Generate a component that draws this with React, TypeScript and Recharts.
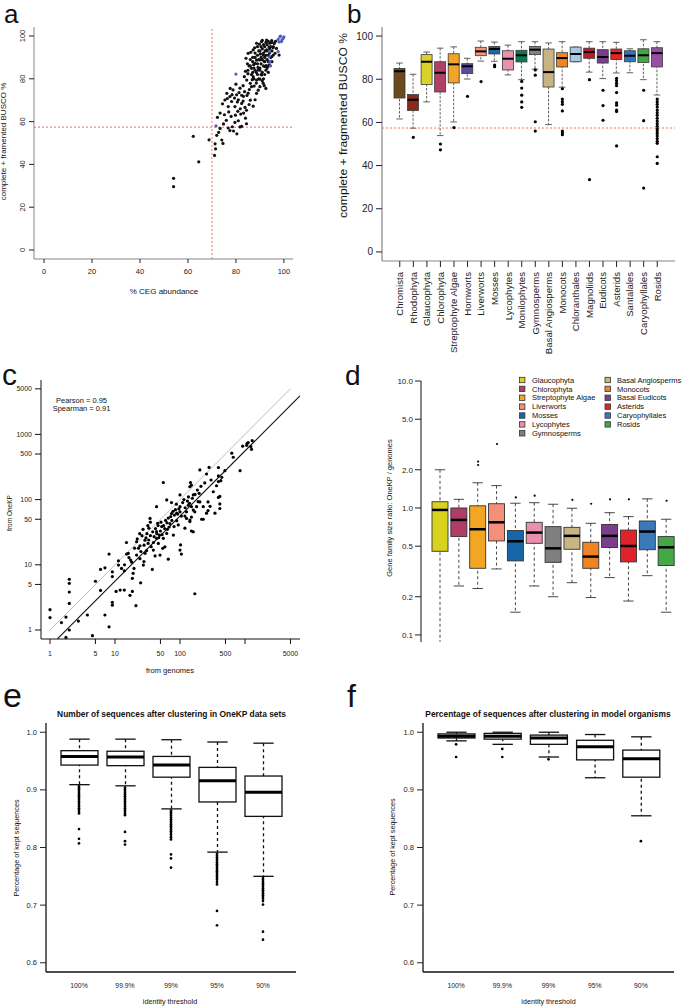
import React from 'react'
import { ComposedChart, Scatter, Bar, XAxis, YAxis, ReferenceLine } from 'recharts'

const FONT = '"Liberation Sans", Arial, Helvetica, sans-serif'
const INK = '#222'
const FRAME = '#858585'
const CUT = '#f2705e'
const BLUE = '#4b5fc0'

// ---------- panel a : BUSCO vs CEG ----------
const aTicks = [0, 20, 40, 60, 80, 100]
const aCutX = 70
const aCutY = 57.4
const aBlack = [
  [54, 33.5], [54, 29.6], [64.5, 41.2], [62.2, 53.1], [68.8, 51.5], [71.3, 49.6], [71.5, 47.3], [71.1, 44.2],
  [72, 53.6], [72.8, 55], [73.4, 56.8], [74.1, 51.4], [74.6, 49.8], [74.8, 58.9], [75.2, 63.2], [76, 60.6],
  [76.8, 57], [77.5, 55.8], [78.5, 57.6], [79, 55.6], [79.6, 59.6], [80.4, 54.3], [81, 60.4], [81.7, 57.5],
  [82.4, 57.8], [84.4, 59], [84, 61.6], [72.3, 62], [73.4, 64], [74.4, 68.3], [75.4, 70.1], [76.2, 73.2],
  [76.8, 67], [77.5, 71.7], [78.2, 69.4], [78.8, 74.8], [79.6, 67], [80.3, 72.5], [81, 70.2], [81.7, 75.6],
  [82.4, 68.5], [83.1, 71.8], [83.8, 66.6], [84.4, 65.3], [85.1, 73.3], [86, 70], [86.5, 76.3], [87.2, 67.2],
  [88, 70.2], [88.6, 73.2], [77, 64.5], [79.8, 63], [82, 63.5], [85.5, 68], [80, 77.5], [83, 76.8],
  [84.5, 79.4], [85, 82.4], [86, 77.9], [86.5, 84.9], [87.2, 81], [88, 87.2], [88.6, 79.4], [89.3, 84.1],
  [90, 88.8], [90.7, 81.8], [91.4, 91.1], [92.1, 85.7], [92.8, 93.5], [93.5, 88], [94.2, 96.6], [94.9, 90.3],
  [95.6, 95], [96.3, 91.9], [92.5, 75.5], [91.4, 77.9], [90, 76.3], [84.2, 89.6], [85.1, 91.9], [87.2, 93.5],
  [88.6, 96.6], [90.7, 97.4], [92.8, 98.1], [94.9, 97.8], [96.9, 94.2], [98, 91.1], [86, 86], [87, 88],
  [87.5, 85], [88, 90], [88.5, 83], [89, 87], [89, 91], [89.5, 89], [90, 85], [90, 93], [90.5, 90],
  [90.5, 87], [91, 94], [91, 83], [91, 89], [91.5, 92], [91.5, 86], [92, 90], [92, 95], [92, 88],
  [92.5, 91], [92.5, 84], [93, 93], [93, 89], [93, 96], [93.5, 91], [93.5, 86], [94, 94], [94, 92],
  [94.5, 95], [95, 93], [95, 97], [95.5, 91], [89, 95], [88, 92], [87, 90], [86, 89], [85.5, 86],
  [86.5, 82], [87.5, 80], [88.5, 78], [89.5, 80], [90.5, 82], [91.5, 80], [90, 84], [89, 82], [88, 84],
  [87, 83], [89.5, 93], [90.5, 95], [91.5, 96], [92.5, 97], [93.5, 97.5], [91, 98], [89.8, 96.2],
  [94.5, 90], [95, 88], [94, 86.5], [93, 85], [92, 82], [91, 79], [90, 79.8], [93.5, 83], [95.5, 94.5],
  [96, 96.5], [96.5, 97.5], [85, 84], [84, 83.5], [83.5, 81], [84.8, 87], [86.2, 92.4], [87.8, 94.5],
  [88.6, 88.7], [90.2, 91.6], [91.8, 88.2], [92.6, 86.2], [93.8, 94.8], [92.2, 93], [89.2, 85.3],
  [87.4, 86.6], [86.8, 79.6], [85.6, 75], [84.6, 72.2], [83.6, 74], [82.4, 72.3], [81.3, 73.6], [83, 69.6],
  [81.8, 66], [80.6, 69.2], [79.4, 71], [78.4, 72.6], [77.6, 75.5], [76.4, 70.8], [80.8, 64.8], [78, 62.4],
  [83.2, 64], [87.6, 76.6], [89.3, 74.7], [91.8, 76.8],
]
const aBlue = [
  [97.6, 98.4], [98.3, 99.6], [99, 97.4], [99.7, 98.9], [100, 99.6], [99.2, 98.2], [98.6, 100], [98, 97.2],
  [93.9, 92.7], [93.9, 90.3], [94.2, 88], [94.4, 86], [97.6, 92.7], [80, 82.2], [71.7, 58],
]

// ---------- panel b : BUSCO by clade ----------
const bNames = ['Chromista', 'Rhodophyta', 'Glaucophyta', 'Chlorophyta', 'Streptophyte Algae', 'Hornworts',
  'Liverworts', 'Mosses', 'Lycophytes', 'Monilophytes', 'Gymnosperms', 'Basal Angiosperms', 'Monocots',
  'Chloranthales', 'Magnoliids', 'Eudicots', 'Asterids', 'Santalales', 'Caryophyllales', 'Rosids']
const bColors = ['#6b4a1e', '#8b2a1a', '#d8d22a', '#b04068', '#f0a428', '#5a4c9a', '#f4937a', '#1768aa',
  '#e892ad', '#0a7a52', '#808080', '#c8b482', '#f08424', '#a8c8e6', '#c01830', '#7a3e8c', '#e02428',
  '#3474b8', '#44a448', '#9850a4']
const bHi = [87.5, 82.3, 92.6, 94.4, 95, 89.7, 97.7, 97.2, 95.8, 97.4, 97.4, 96.8, 97.4, 94.9, 97.4, 97.4, 97.1, 94.1, 98.3, 97.4]
const bQ3 = [85, 72.9, 91.4, 88.1, 91.8, 87.2, 94.8, 95.2, 93.2, 93.4, 95.2, 94, 92.3, 94.9, 94.4, 93.7, 94, 93.2, 94.1, 94.6]
const bMed = [83.7, 70.5, 88.1, 83, 86.9, 86, 92.9, 94, 89.5, 91.1, 93.7, 83.3, 89.8, 91.7, 92.6, 90.3, 92.1, 90.9, 91.1, 92.1]
const bQ1 = [71.3, 65.5, 77.5, 74.1, 78.3, 82.6, 90.9, 91.7, 84.3, 88, 91.4, 76.4, 85.7, 88.1, 89.7, 87.5, 89.1, 88.1, 87.7, 85.7]
const bLo = [61.6, 57.3, 69.5, 53.9, 60.2, 80.1, 88.4, 88.3, 82, 79.8, 84.7, 59, 76.3, 88.1, 83.3, 80.3, 82.9, 83, 79.8, 72.7]
const bOut = [
  [], [53.1], [], [50, 47.3], [57.6], [72.1], [78.9], [86.6, 85.8], [], [79, 75.9, 72.6, 69.5, 67],
  [84.3, 81.9, 60.3, 56], [], [75.6, 70.8, 69.6, 68.4, 65.3, 56, 55.2, 54.3], [], [79.8, 33.5],
  [74.9, 67.8, 61], [80.4, 79.3, 78.1, 77, 73.8, 69.1, 68, 65.7, 65, 49.1], [], [74.9, 60.8, 29.6],
  [70.8, 69.6, 68.4, 67.1, 65.7, 64.5, 63.3, 61.9, 60.6, 59.4, 58.2, 56.9, 56, 54.9, 53.7, 52.5, 51.2, 50.3, 44.1, 41],
]
const bTicks = [0, 20, 40, 60, 80, 100]
const bCut = 57.4

// ---------- panel c : gene family sizes ----------
const cTicksY = [1, 5, 10, 50, 100, 500, 1000, 5000]
const cTicksX = [1, 5, 10, 50, 100, 500, 1000, 5000]
const cIdentity = [[1, 1], [5000, 5000]]
const cFit = [[1.3, 0.73], [7000, 3900]]
const cPoints = [
  [1, 2.05], [1, 1.55], [1.5, 1.3], [1.76, 1.58], [1.98, 1.0], [1.76, 0.77], [1.98, 2.56], [1.98, 3.83],
  [1.98, 5.2], [1.98, 6.0], [2.73, 1.37], [3.76, 1.7], [4.5, 0.82], [5.0, 5.6], [6.0, 4.05], [6.0, 8.5],
  [7.0, 9.0], [7.0, 1.7], [8.1, 1.12], [8.1, 14.6], [9.1, 2.66], [9.1, 2.4], [9.1, 6.6], [9.1, 7.8],
  [10.4, 3.9], [11.3, 11.5], [12, 4.1], [13.9, 4.1], [11.3, 9.9], [12.6, 8.8], [13.9, 8.1], [15.1, 14.6],
  [16.4, 12.9], [17, 3.4], [18.5, 3.9], [18.5, 6.2], [19, 7.4], [19.6, 8.8], [17.4, 11.8], [21, 2.36],
  [21.5, 14.1], [21.5, 22.6], [24.2, 12.4], [24.2, 19.6], [24.8, 5.3], [27.3, 9.9], [27.9, 11.2],
  [28.9, 23.9], [30.6, 16.5], [32.3, 21.3], [33.2, 36.4], [34.6, 51.5], [37.5, 8.5], [38.9, 16.8],
  [41.4, 13.7], [43.6, 32.2], [43.6, 25.5], [45.3, 43.3], [46.4, 21.3], [48.1, 28.6], [49.3, 14.1],
  [52.3, 38.6], [54.2, 17.9], [55.4, 25.5], [55.4, 183], [58.6, 18.9], [62.5, 30.3], [64, 35], [66, 12.2],
  [70, 43], [74, 61], [79, 28.6], [81, 38.6], [89, 47.5], [94, 40.9], [100, 16.8], [105, 14.6], [102, 20.2],
  [105, 56], [119, 36.4], [126, 51.5], [134, 82], [142, 46], [150, 54], [150, 33], [160, 32], [169, 3.6],
  [169, 65], [180, 78], [202, 92], [228, 50], [270, 68], [290, 79], [345, 62], [390, 108], [410, 86],
  [410, 73], [62.5, 99], [43.6, 78], [142, 158], [145, 183], [150, 167], [202, 285], [256, 247], [280, 312],
  [390, 310], [390, 231], [425, 195], [440, 220], [390, 189], [365, 163], [325, 132], [410, 112], [270, 92],
  [228, 78], [256, 62], [197, 125], [190, 93], [160, 118], [150, 78], [126, 65], [100, 118], [74, 90],
  [100, 78], [89, 62], [119, 56], [142, 48.7], [160, 69], [215, 50], [626, 516], [660, 446], [840, 278],
  [920, 660], [1060, 680], [1120, 750], [1230, 650], [1290, 800], [1260, 590], [1080, 730], [490, 278],
  [100, 65], [20, 18], [22, 25], [25, 16], [26, 28], [28, 20], [30, 26], [31, 30], [33, 24], [35, 28],
  [36, 19], [38, 32], [40, 27], [42, 36], [44, 30], [46, 40], [47, 26], [50, 33], [51, 45], [53, 29],
  [56, 40], [58, 36], [60, 48], [63, 44], [66, 52], [68, 38], [72, 55], [75, 48], [78, 66], [82, 58],
  [85, 70], [88, 85], [92, 60], [96, 72], [110, 90], [115, 100], [120, 75], [130, 95], [135, 110],
  [140, 88], [155, 105], [170, 120], [185, 140], [210, 160], [240, 180], [300, 200], [14, 10], [16, 15],
  [18, 11], [23, 18], [29, 15], [35, 45], [39, 22], [27, 35], [24, 30], [32, 40], [15, 22],
]
const cPearson = 0.95
const cSpearman = 0.91

// ---------- panel d : size ratio ----------
const dNames = ['Glaucophyta', 'Chlorophyta', 'Streptophyte Algae', 'Liverworts', 'Mosses', 'Lycophytes',
  'Gymnosperms', 'Basal Angiosperms', 'Monocots', 'Basal Eudicots', 'Asterids', 'Caryophyllales', 'Rosids']
const dColors = ['#d9d21f', '#b03c68', '#f2a623', '#f4907a', '#1766a9', '#e991ac', '#7f7f7f', '#c9b483',
  '#ef8423', '#7c3f8d', '#e0232b', '#3a7abb', '#45a847']
const dHi = [2.0, 1.17, 1.58, 1.5, 1.09, 1.10, 1.07, 0.995, 0.757, 0.918, 0.855, 1.18, 0.815]
const dQ3 = [1.12, 1.0, 1.04, 1.08, 0.664, 0.771, 0.713, 0.704, 0.537, 0.742, 0.67, 0.79, 0.595]
const dMed = [0.965, 0.805, 0.68, 0.771, 0.547, 0.64, 0.481, 0.603, 0.414, 0.603, 0.502, 0.652, 0.49]
const dQ1 = [0.456, 0.595, 0.335, 0.55, 0.383, 0.527, 0.373, 0.473, 0.335, 0.488, 0.376, 0.469, 0.352]
const dLo = [0.088, 0.243, 0.232, 0.331, 0.151, 0.243, 0.2, 0.258, 0.197, 0.283, 0.185, 0.293, 0.151]
const dOut = [[], [], [2.32, 2.18], [3.19], [1.21], [1.25], [], [1.16], [1.08], [1.17], [1.17], [], [1.14]]
const dTicks = [0.1, 0.2, 0.5, 1, 2, 5, 10]

// ---------- panels e, f : clustering ----------
const thresholds = ['100%', '99.9%', '99%', '95%', '90%']
const qTicks = [0.6, 0.7, 0.8, 0.9, 1.0]
const eHi = [0.988, 0.988, 0.987, 0.983, 0.981]
const eQ3 = [0.968, 0.967, 0.958, 0.939, 0.924]
const eMed = [0.958, 0.957, 0.943, 0.916, 0.896]
const eQ1 = [0.943, 0.942, 0.922, 0.879, 0.854]
const eLo = [0.909, 0.907, 0.867, 0.792, 0.75]
const eOut = [
  [0.906, 0.903, 0.9, 0.898, 0.895, 0.892, 0.889, 0.886, 0.883, 0.88, 0.877, 0.874, 0.871, 0.868, 0.865, 0.862, 0.859, 0.832, 0.815, 0.807],
  [0.904, 0.901, 0.898, 0.895, 0.892, 0.889, 0.886, 0.883, 0.88, 0.877, 0.874, 0.871, 0.868, 0.865, 0.862, 0.859, 0.856, 0.827, 0.811, 0.805],
  [0.864, 0.861, 0.858, 0.855, 0.852, 0.849, 0.846, 0.843, 0.84, 0.837, 0.834, 0.831, 0.828, 0.825, 0.822, 0.818, 0.814, 0.788, 0.781, 0.765],
  [0.789, 0.786, 0.783, 0.78, 0.777, 0.774, 0.771, 0.768, 0.765, 0.762, 0.759, 0.756, 0.753, 0.75, 0.747, 0.744, 0.74, 0.736, 0.69, 0.665],
  [0.747, 0.744, 0.741, 0.738, 0.735, 0.732, 0.729, 0.726, 0.723, 0.72, 0.717, 0.714, 0.711, 0.707, 0.701, 0.654, 0.64],
]
const fHi = [1.0, 1.0, 1.0, 0.996, 0.992]
const fQ3 = [0.997, 0.998, 0.995, 0.986, 0.969]
const fMed = [0.993, 0.993, 0.99, 0.975, 0.954]
const fQ1 = [0.99, 0.988, 0.979, 0.952, 0.922]
const fLo = [0.985, 0.979, 0.957, 0.921, 0.855]
const fOut = [[0.979, 0.957], [0.971, 0.957], [0.953], [], [0.811]]

// ---------- tick renderers ----------
const leftTick = (fs: number, fmt: (v: number) => string = String) => (p: any) => (
  <text x={p.x} y={p.y} dy="0.35em" textAnchor="end" fontSize={fs} fill={INK} fontFamily={FONT}>
    {fmt(p.payload.value)}
  </text>
)
const bottomTick = (fs: number, fmt: (v: any) => string = String) => (p: any) => (
  <text x={p.x} y={p.y} dy="0.71em" textAnchor="middle" fontSize={fs} fill={INK} fontFamily={FONT}>
    {fmt(p.payload.value)}
  </text>
)
const upTick = (fs: number) => (p: any) => (
  <text x={p.x} y={p.y} transform={`rotate(-90 ${p.x} ${p.y})`} textAnchor="middle" fontSize={fs} fill={INK} fontFamily={FONT}>
    {p.payload.value}
  </text>
)
const catTick = (fs: number) => (p: any) => (
  <text x={p.x} y={p.y} dy="0.35em" transform={`rotate(-90 ${p.x} ${p.y})`} textAnchor="end" fontSize={fs} fill={INK} fontFamily={FONT}>
    {p.payload.value}
  </text>
)
const dot = (r: number, fill: string) => (s: any) => <circle cx={s.cx} cy={s.cy} r={r} fill={fill} />
const oneDec = (v: number) => v.toFixed(1)

// ---------- box plot pieces ----------
type BoxStyle = { line: string; lw: number; med: number; cap: number; dash: string; fill?: string; openLow?: string[]; dotR: number }

const whiskerShape = (st: BoxStyle) => (p: any) => {
  const cx = p.x + p.width / 2
  const half = (p.width * st.cap) / 2
  const low = p.y + p.height
  const capLow = !(st.openLow || []).includes(p.payload.name)
  return (
    <g>
      <line x1={cx} x2={cx} y1={p.y} y2={low} stroke={st.line} strokeWidth={st.lw} strokeDasharray={st.dash} />
      <line x1={cx - half} x2={cx + half} y1={p.y} y2={p.y} stroke={st.line} strokeWidth={st.lw} />
      {capLow && <line x1={cx - half} x2={cx + half} y1={low} y2={low} stroke={st.line} strokeWidth={st.lw} />}
    </g>
  )
}
const boxShape = (st: BoxStyle) => (p: any) => (
  <rect x={p.x} y={p.y} width={p.width} height={Math.max(p.height, 0.5)} fill={st.fill || p.payload.color} stroke={st.line} strokeWidth={st.lw} />
)
const medianShape = (st: BoxStyle) => (p: any) => (
  <line x1={p.x} x2={p.x + p.width} y1={p.y} y2={p.y} stroke="#000" strokeWidth={st.med} />
)

function BoxPanel(p: any) {
  const rows = p.names.map((name: string, i: number) => ({
    name,
    color: p.colors ? p.colors[i] : '#fff',
    whisker: [p.lo[i], p.hi[i]],
    box: [p.q1[i], p.q3[i]],
    mid: [p.med[i], p.med[i]],
  }))
  const pts = p.out.flatMap((vals: number[], i: number) => vals.map((v) => ({ x: i, y: v })))
  const pad = { left: p.pad, right: p.pad }
  return (
    <ComposedChart width={p.width} height={p.height} data={rows} margin={p.margin}>
      <XAxis xAxisId="w" dataKey="name" hide padding={pad} />
      <XAxis xAxisId="m" dataKey="name" hide padding={pad} />
      <XAxis xAxisId="n" type="number" dataKey="x" domain={[-0.5, p.names.length - 0.5]} allowDataOverflow hide padding={pad} />
      <XAxis
        xAxisId="b"
        dataKey="name"
        hide={!p.showX}
        padding={pad}
        height={p.xHeight}
        interval={0}
        tick={p.xTick}
        tickSize={p.xSize}
        tickMargin={p.xGap}
        tickLine={p.xSize > 0 ? { stroke: INK } : false}
        axisLine={p.axis}
      />
      {p.frame && (
        <XAxis xAxisId="top" orientation="top" type="number" domain={[0, 1]} allowDataOverflow height={0} tick={false} tickLine={false} axisLine={p.axis} />
      )}
      <YAxis
        type="number"
        scale={p.log ? 'log' : 'linear'}
        domain={p.domain}
        ticks={p.yTicks}
        interval={0}
        width={p.yWidth}
        tick={p.yTick}
        tickSize={p.ySize}
        tickMargin={p.yGap}
        tickLine={{ stroke: INK }}
        axisLine={p.yAxisLine || p.axis}
      />
      {p.frame && (
        <YAxis yAxisId="right" orientation="right" type="number" domain={[0, 1]} allowDataOverflow width={0} tick={false} tickLine={false} axisLine={p.axis} />
      )}
      {p.cut !== undefined && (
        <ReferenceLine xAxisId="b" y={p.cut} stroke={CUT} strokeWidth={1} strokeDasharray="2 2" />
      )}
      <Bar xAxisId="w" dataKey="whisker" barSize={p.barSize} shape={whiskerShape(p.st)} isAnimationActive={false} />
      <Bar xAxisId="b" dataKey="box" barSize={p.barSize} shape={boxShape(p.st)} isAnimationActive={false} />
      <Bar xAxisId="m" dataKey="mid" barSize={p.barSize} shape={medianShape(p.st)} isAnimationActive={false} />
      <Scatter xAxisId="n" data={pts} dataKey="y" shape={dot(p.st.dotR, '#000')} isAnimationActive={false} />
    </ComposedChart>
  )
}

// ---------- panels ----------
function PanelA() {
  const black = aBlack.map(([x, y]) => ({ x, y }))
  const blue = aBlue.map(([x, y]) => ({ x, y }))
  return (
    <ComposedChart width={300} height={300} margin={{ top: 27, right: 7, bottom: 0, left: 0 }}>
      <XAxis type="number" dataKey="x" domain={[-4.2, 103.8]} allowDataOverflow ticks={aTicks} interval={0} height={41}
        tickSize={4} tickMargin={6} tick={bottomTick(7.5)} axisLine={{ stroke: FRAME }} tickLine={{ stroke: INK }} />
      <XAxis xAxisId="top" orientation="top" type="number" domain={[0, 1]} allowDataOverflow height={0} tick={false} tickLine={false} axisLine={{ stroke: FRAME }} />
      <YAxis type="number" dataKey="y" domain={[-4.2, 104.2]} allowDataOverflow ticks={aTicks} interval={0} width={34}
        tickSize={5} tickMargin={4} tick={upTick(7.5)} axisLine={{ stroke: FRAME }} tickLine={{ stroke: INK }} />
      <YAxis yAxisId="right" orientation="right" type="number" domain={[0, 1]} allowDataOverflow width={0} tick={false} tickLine={false} axisLine={{ stroke: FRAME }} />
      <ReferenceLine x={aCutX} stroke={CUT} strokeDasharray="2 2" />
      <ReferenceLine y={aCutY} stroke={CUT} strokeDasharray="2 2" />
      <Scatter data={black} shape={dot(1.6, '#111')} isAnimationActive={false} />
      <Scatter data={blue} shape={dot(1.6, BLUE)} isAnimationActive={false} />
    </ComposedChart>
  )
}

function PanelC() {
  const pts = cPoints.map(([x, y]) => ({ x, y }))
  const seg = (s: number[][]) => s.map(([x, y]) => ({ x, y }))
  return (
    <ComposedChart width={320} height={350} margin={{ top: 50, right: 20, bottom: 0, left: 0 }}>
      <XAxis type="number" dataKey="x" scale="log" domain={[0.727, 7015]} allowDataOverflow ticks={cTicksX} interval={0}
        height={41} tickSize={5} tickMargin={7} tick={bottomTick(7, (v) => (v === 1000 ? '' : String(v)))}
        axisLine={{ stroke: '#111' }} tickLine={{ stroke: '#111' }} />
      <YAxis type="number" dataKey="y" scale="log" domain={[0.728, 6830]} allowDataOverflow ticks={cTicksY} interval={0}
        width={41} tickSize={6} tickMargin={3} tick={leftTick(7)} axisLine={{ stroke: '#111' }} tickLine={{ stroke: '#111' }} />
      <ReferenceLine segment={seg(cIdentity)} stroke="#bdbdbd" strokeWidth={1} ifOverflow="visible" />
      <ReferenceLine segment={seg(cFit)} stroke="#111" strokeWidth={1.1} ifOverflow="visible" />
      <Scatter data={pts} shape={dot(1.6, '#000')} isAnimationActive={false} />
    </ComposedChart>
  )
}

const bStyle: BoxStyle = { line: '#3a3a3a', lw: 0.8, med: 2, cap: 0.6, dash: '2.5 1.5', dotR: 1.6 }
const dStyle: BoxStyle = { line: '#333', lw: 0.9, med: 2.5, cap: 0.65, dash: '3 2.5', dotR: 1.1, openLow: ['Glaucophyta'] }
const qStyle: BoxStyle = { line: '#111', lw: 1.3, med: 3, cap: 0.55, dash: '3 3', fill: '#fff', dotR: 1.35 }

function Overlay() {
  const t = { fontFamily: FONT, fill: '#111' }
  const legend = dNames.map((n, i) => {
    const col = i < 7 ? 0 : 1
    const row = i < 7 ? i : i - 7
    const cy = 380 + row * 8.88
    const sx = col === 0 ? 519.5 : 605
    const tx = col === 0 ? 532 : 617
    return (
      <g key={n}>
        <rect x={sx} y={cy - 2.7} width={5.4} height={5.4} fill={dColors[i]} stroke="#333" strokeWidth={0.8} />
        <text x={tx} y={cy + 2.7} fontSize={7.5} {...t}>{n}</text>
      </g>
    )
  })
  return (
    <svg width={692} height={1008} style={{ position: 'absolute', left: 0, top: 0, pointerEvents: 'none' }}>
      <text x={4} y={23} fontSize={26} {...t}>a</text>
      <text x={347} y={23} fontSize={26} {...t}>b</text>
      <text x={2} y={385} fontSize={30} {...t}>c</text>
      <text x={345} y={385} fontSize={28} {...t}>d</text>
      <text x={3} y={707} fontSize={34} {...t}>e</text>
      <text x={347} y={707} fontSize={32} {...t}>f</text>

      <text transform="translate(6 141.5) rotate(-90)" textAnchor="middle" fontSize={8} {...t}>complete + framented BUSCO %</text>
      <text x={164} y={294} textAnchor="middle" fontSize={8} {...t}>% CEG abundance</text>

      <text transform="translate(346.5 125.5) rotate(-90)" textAnchor="middle" fontSize={11} textLength={185} lengthAdjust="spacingAndGlyphs" {...t}>complete + fragmented BUSCO %</text>

      <text x={81.5} y={402.5} textAnchor="middle" fontSize={7.5} {...t}>{`Pearson = ${cPearson}`}</text>
      <text x={81.5} y={411} textAnchor="middle" fontSize={7.5} {...t}>{`Spearman = ${cSpearman}`}</text>
      <text transform="translate(12 513) rotate(-90)" textAnchor="middle" fontSize={6.5} {...t}>from OneKP</text>
      <text x={170} y={673} textAnchor="middle" fontSize={7.5} {...t}>from genomes</text>

      <text transform="translate(392 508) rotate(-90)" textAnchor="middle" fontSize={7.5} {...t}>Gene family size ratio: OneKP / genomes</text>
      {legend}

      <text x={171.5} y={716.5} textAnchor="middle" fontSize={8.4} fontWeight="bold" {...t}>Number of sequences after clustering in OneKP data sets</text>
      <text x={170} y={1003.5} textAnchor="middle" fontSize={7.2} {...t}>identity threshold</text>
      <text transform="translate(18.5 848) rotate(-90)" textAnchor="middle" fontSize={7.2} {...t}>Percentage of kept sequences</text>

      <text x={548} y={716.5} textAnchor="middle" fontSize={8.4} fontWeight="bold" {...t}>Percentage of sequences after clustering in model organisms</text>
      <text x={548.5} y={1003.5} textAnchor="middle" fontSize={7.2} {...t}>identity threshold</text>
      <text transform="translate(394.5 847) rotate(-90)" textAnchor="middle" fontSize={7.2} {...t}>Percentage of kept sequences</text>
    </svg>
  )
}

export default function App() {
  const qAxis = { stroke: '#111', strokeWidth: 1.3 }
  return (
    <div style={{ position: 'absolute', left: 0, top: 0, width: 692, height: 1008, background: '#fff', fontFamily: FONT }}>
      <div style={{ position: 'absolute', left: 0, top: 0 }}>
        <PanelA />
      </div>
      <div style={{ position: 'absolute', left: 0, top: 330 }}>
        <PanelC />
      </div>
      <div style={{ position: 'absolute', left: 300, top: 0 }}>
        <BoxPanel
          names={bNames} colors={bColors} lo={bLo} q1={bQ1} med={bMed} q3={bQ3} hi={bHi} out={bOut}
          width={392} height={365} margin={{ top: 27, right: 17, bottom: 0, left: 0 }}
          yWidth={82} xHeight={104} showX domain={[-4.2, 104.2]} yTicks={bTicks} pad={11} barSize={11}
          st={bStyle} yTick={leftTick(10)} xTick={catTick(9.6)} ySize={6} yGap={3} xSize={6} xGap={5}
          axis={{ stroke: FRAME, strokeWidth: 1.2 }} frame cut={bCut}
        />
      </div>
      <div style={{ position: 'absolute', left: 320, top: 360 }}>
        <BoxPanel
          names={dNames} colors={dColors} lo={dLo} q1={dQ1} med={dMed} q3={dQ3} hi={dHi} out={dOut}
          width={372} height={300} margin={{ top: 21, right: 6, bottom: 18, left: 0 }}
          yWidth={101} xHeight={0} showX={false} domain={[0.088, 10]} log yTicks={dTicks} pad={10} barSize={16}
          st={dStyle} yTick={leftTick(8, oneDec)} xTick={false} ySize={6} yGap={2} xSize={0} xGap={0}
          axis={{ stroke: '#111', strokeWidth: 1 }}
        />
      </div>
      <div style={{ position: 'absolute', left: 0, top: 700 }}>
        <BoxPanel
          names={thresholds} lo={eLo} q1={eQ1} med={eMed} q3={eQ3} hi={eHi} out={eOut}
          width={346} height={308} margin={{ top: 23, right: 50, bottom: 0, left: 0 }}
          yWidth={46} xHeight={36} showX domain={[0.584, 1.016]} yTicks={qTicks} pad={10} barSize={37}
          st={qStyle} yTick={leftTick(7.5, oneDec)} xTick={bottomTick(6.8)} ySize={6} yGap={3} xSize={0} xGap={11}
          axis={qAxis}
        />
      </div>
      <div style={{ position: 'absolute', left: 346, top: 700 }}>
        <BoxPanel
          names={thresholds} lo={fLo} q1={fQ1} med={fMed} q3={fQ3} hi={fHi} out={fOut}
          width={346} height={308} margin={{ top: 23, right: 18, bottom: 0, left: 0 }}
          yWidth={77} xHeight={36} showX domain={[0.584, 1.016]} yTicks={qTicks} pad={10} barSize={37}
          st={qStyle} yTick={leftTick(7.5, oneDec)} xTick={bottomTick(6.8)} ySize={6} yGap={3} xSize={0} xGap={11}
          axis={qAxis}
        />
      </div>
      <Overlay />
    </div>
  )
}
